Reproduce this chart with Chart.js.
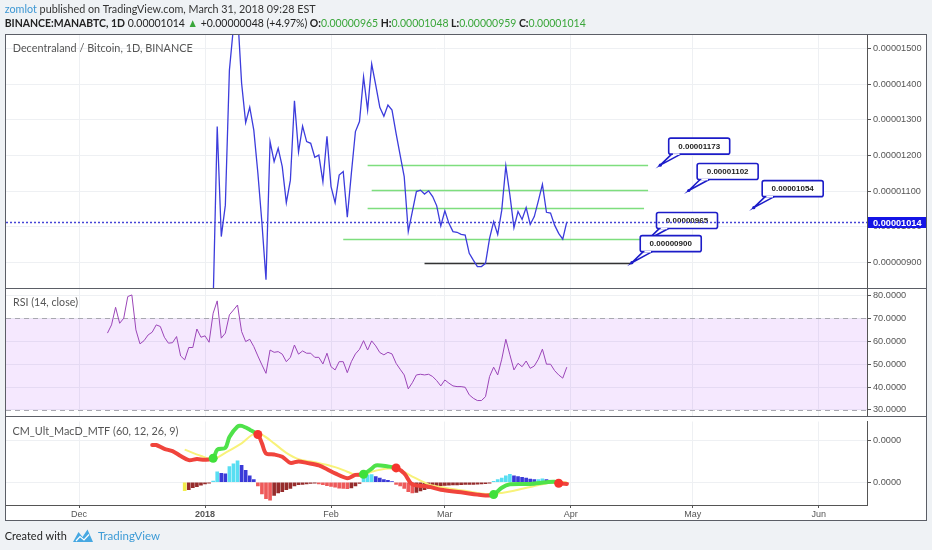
<!DOCTYPE html>
<html lang="en">
<head>
<meta charset="UTF-8">
<title>MANABTC 1D</title>
<script src="https://cdn.jsdelivr.net/npm/chart.js@4"></script>
<style>
  body { margin: 0; background: #eff2f5; }
  #page { position: relative; width: 932px; height: 550px; overflow: hidden; }
  canvas { position: absolute; left: 0; }
  .rule { position: absolute; background: #5b5e66; }
</style>
</head>
<body>
<div id="page">
  <canvas id="bg" width="932" height="550" style="top:0;width:932px;height:550px"></canvas>
  <canvas id="price" width="927" height="255" style="top:34px;width:927px;height:255px"></canvas>
  <canvas id="rsi" width="927" height="128" style="top:289px;width:927px;height:128px"></canvas>
  <canvas id="macd" width="927" height="104" style="top:417px;width:927px;height:104px"></canvas>
  <div class="rule" style="left:5px;top:34px;width:922px;height:1px"></div>
  <div class="rule" style="left:5px;top:34px;width:1px;height:487px"></div>
  <div class="rule" style="left:926px;top:34px;width:1px;height:487px"></div>
  <div class="rule" style="left:5px;top:520px;width:922px;height:1px"></div>
  <div class="rule" style="left:5px;top:288px;width:922px;height:1px"></div>
  <div class="rule" style="left:5px;top:416px;width:922px;height:1px"></div>
</div>
<script>
// days counted from Dec 1 2017
var xTickDays = [0, 31, 62, 90, 121, 151, 182];
var xTickLabels = ['Dec', '2018', 'Feb', 'Mar', 'Apr', 'May', 'Jun'];

// price in 1e-8 BTC, one value per day from priceStart
var priceStart = 31;
var priceVals = [650, 700, 790, 1281, 973, 1061, 1439, 1560, 1600, 1402,
  1292, 1335, 1271, 1151, 1011, 852, 1239, 1183, 1220, 1169,
  1068, 1131, 1353, 1210, 1282, 1239, 1234, 1195, 1201, 1126,
  1254, 1113, 1068, 1145, 1155, 1027, 1150, 1267, 1295, 1420,
  1327, 1456, 1397, 1335, 1310, 1341, 1327, 1262, 1201, 1141,
  987, 1043, 1099, 1103, 1092, 1101, 1085, 1059, 1003, 1045,
  1010, 987, 985, 979, 977, 926, 907, 889, 889, 898,
  968, 1015, 979, 1047, 1171, 1089, 998, 1043, 1021, 1054,
  1007, 1029, 1073, 1119, 1041, 1039, 1005, 982, 966, 1014];
var priceTicks = [900, 1000, 1100, 1200, 1300, 1400, 1500];
var lastPrice = 1014;
var ohlcNames = ['O', 'H', 'L', 'C'];
var ohlcVals = [965, 1048, 959, 1014];
var changeVal = 48;
var changePct = 4.97;

// drawn levels: price, first day, last day
var levelVals = [1173, 1102, 1054, 965, 900];
var levelFrom = [71, 72, 71, 65, 85];
var levelTo = [140, 140, 139, 138, 136];
// price notes: price, day
var noteVals = [1173, 1102, 1054, 965, 900];
var noteDays = [143, 150, 166, 140, 136];

// RSI(14), one value per day from rsiStart
var rsiStart = 7;
var rsiVals = [63.6, 67.2, 74.9, 67.9, 70.1, 79.6, 80.3, 65.0, 58.9, 60.3,
  62.8, 64.0, 67.2, 66.5, 61.8, 59.2, 59.4, 62.1, 53.6, 51.9,
  57.3, 57.3, 65.4, 61.8, 62.4, 59.6, 72.3, 77.7, 61.4, 63.6,
  71.6, 73.7, 75.9, 64.3, 59.9, 60.9, 57.7, 53.6, 49.7, 46.0,
  56.2, 55.2, 55.5, 54.4, 51.1, 53.0, 58.4, 54.4, 55.8, 54.8,
  54.8, 53.0, 53.0, 50.1, 54.8, 48.9, 47.5, 51.1, 51.1, 46.3,
  51.1, 54.5, 56.5, 60.3, 56.2, 60.2, 58.0, 55.1, 54.1, 55.2,
  54.5, 50.4, 47.8, 45.3, 39.2, 41.9, 45.3, 45.6, 45.3, 45.6,
  44.6, 42.8, 40.5, 43.1, 41.7, 40.5, 40.2, 40.2, 39.9, 36.6,
  35.1, 34.1, 34.1, 35.8, 44.6, 48.7, 45.3, 52.2, 60.9, 54.1,
  47.5, 50.4, 48.9, 51.4, 48.2, 49.2, 52.2, 56.6, 50.0, 50.0,
  47.2, 45.3, 43.9, 48.7];
var rsiTicks = [30, 40, 50, 60, 70, 80];
var rsiBand = [30, 70];

// MACD in 1e-8 BTC
var macdDays = [18, 19, 21, 23, 25, 27, 29, 31, 33, 34, 36, 37, 39, 40, 42, 44, 45, 46,
  48, 50, 52, 54, 56, 59, 61, 63, 66, 68, 70, 72, 73, 76, 78, 80, 82, 86, 89,
  94, 98, 100, 102, 104, 106, 111, 115, 117, 118, 120];
var macdVals = [17.7, 17.7, 15.9, 14.8, 12.5, 10.5, 11.0, 10.7, 11.4, 15.5, 16.3, 21.5,
  26.5, 26.8, 25.0, 22.7, 18.5, 13.7, 13.2, 12.1, 9.2, 9.9, 9.2, 8.0, 6.2, 4.2,
  1.9, 3.5, 3.8, 6.5, 8.0, 7.5, 6.8, 4.2, -1.0, -2.1, -3.6, -4.8, -5.9, -6.3,
  -5.9, -2.6, -1.0, -0.8, 0, 0.2, -0.5, -0.8];
var signalDays = [26, 30, 33, 36, 40, 43, 45, 48, 51, 54, 58, 63, 66, 69, 72, 76, 79,
  82, 86, 90, 95, 100, 104, 107, 112, 116, 120];
var signalVals = [15.5, 12.5, 11.0, 14.0, 18.5, 23.0, 22.6, 18.5, 14.0, 11.0, 9.5, 7.2,
  5.0, 3.0, 5.0, 6.5, 5.7, 2.7, -1.0, -2.6, -4.1, -5.6, -5.1, -4.1, -1.8, -0.3, 0];
var crossDays = [33, 44, 70, 78, 102, 118];
var histStart = 26;
var histVals = [-4.0, -3.6, -2.6, -2.1, -1.4, -0.8, -0.4, 0.6, 5.0, 4.2,
  4.0, 7.5, 8.7, 10.2, 8.0, 5.7, 3.0, 1.2, -1.8, -5.6,
  -7.8, -8.6, -6.3, -5.1, -4.5, -3.6, -3.0, -1.8, -1.2, -1.0,
  -0.8, -0.6, -0.5, -0.8, -1.2, -1.6, -2.0, -2.4, -2.8, -3.0,
  -3.1, -2.7, -1.8, -0.6, 2.7, 3.5, 3.6, 2.7, 2.0, 1.2,
  0.9, 0.3, -1.0, -1.8, -3.0, -4.5, -5.1, -4.8, -4.1, -3.6,
  -3.0, -2.1, -1.8, -1.6, -1.5, -1.4, -1.3, -1.3, -1.2, -1.1,
  -1.1, -1.0, -0.9, -0.8, -0.7, -0.5, 0.4, 1.2, 2.0, 3.0,
  3.7, 3.0, 2.7, 2.3, 2.0, 1.5, 1.2, 1.3, 1.6, 1.2,
  0.9, 0.6, -0.3, -0.5, -0.8];
var macdTicks = [0, 20];

var FONT = 'Liberation Sans, Arial, sans-serif';
var TEXTFONT = 'Lato, Open Sans, sans-serif';
var GRID = '#eef0f3';

function fmt8(v) { return (v * 1e-8).toFixed(8); }

// draw text runs squeezed to a width
function drawRuns(ctx, runs, x, y, w) {
    var total = 0;
    runs.forEach(function (r) { ctx.font = r[1]; total += ctx.measureText(r[0]).width; });
    ctx.save();
    ctx.translate(x, y);
    ctx.scale(w / total, 1);
    ctx.textBaseline = 'middle';
    ctx.textAlign = 'left';
    var cx = 0;
    runs.forEach(function (r) {
        ctx.font = r[1];
        ctx.fillStyle = r[2];
        ctx.fillText(r[0], cx, 0);
        cx += ctx.measureText(r[0]).width;
    });
    ctx.restore();
}

// ---------- page background, header, footer ----------
var bg = document.getElementById('bg').getContext('2d');
bg.fillStyle = '#eff2f5';
bg.fillRect(0, 0, 932, 550);
bg.fillStyle = '#ffffff';
bg.fillRect(5, 34, 922, 487);

var f1 = '11.5px ' + TEXTFONT;
var f1b = 'bold 11.5px ' + TEXTFONT;
var up = '#3aa63a';
drawRuns(bg, [['zomlot', f1, '#3d97d3'],
    [' published on TradingView.com, March 31, 2018 09:28 EST', f1, '#333']], 4.7, 9.5, 311);
var line2 = [['BINANCE:MANABTC, 1D', f1b, '#222'],
    [' ' + fmt8(lastPrice) + ' ', f1, '#222'], ['\u25B2', f1, up],
    [' +' + fmt8(changeVal) + ' (+' + changePct.toFixed(2) + '%)', f1, '#222']];
ohlcNames.forEach(function (n, i) {
    line2.push([' ' + n + ':', f1b, '#222']);
    line2.push([fmt8(ohlcVals[i]), f1, up]);
});
drawRuns(bg, line2, 4.7, 23.5, 581);

drawRuns(bg, [['Created with', f1, '#222']], 4.8, 536, 62);
bg.fillStyle = '#46a8e2';
bg.beginPath();
bg.moveTo(73, 542);
bg.lineTo(78.5, 532);
bg.lineTo(82.5, 537);
bg.lineTo(87.5, 529.5);
bg.lineTo(93, 542);
bg.closePath();
bg.fill();
bg.strokeStyle = '#ffffff';
bg.lineWidth = 1.2;
bg.beginPath();
bg.moveTo(76, 541);
bg.lineTo(80, 536.5);
bg.lineTo(84, 540);
bg.lineTo(89, 534.5);
bg.stroke();
drawRuns(bg, [['TradingView', f1, '#3d9bd6']], 98, 536, 62);

// ---------- shared scale builders ----------
var xMin = -17.96;
var xMax = 193.85;

function xScale(showLabels) {
    return {
        type: 'linear', min: xMin, max: xMax, offset: false,
        afterBuildTicks: function (s) { s.ticks = xTickDays.map(function (v) { return { value: v }; }); },
        afterFit: function (s) { s.height = showLabels ? 16 : 0; s.paddingLeft = 0; s.paddingRight = 0; },
        grid: { color: GRID, offset: false, drawTicks: showLabels, tickLength: 3, tickColor: '#555' },
        border: { display: showLabels, color: '#555' },
        ticks: {
            display: showLabels, autoSkip: false, maxRotation: 0, padding: 1, color: '#555',
            font: function (c) {
                return { family: FONT, size: 9, weight: xTickLabels[c.index] === '2018' ? 'bold' : 'normal' };
            },
            callback: function (v, i) { return xTickLabels[i]; }
        }
    };
}

function yScale(min, max, ticks, format) {
    return {
        position: 'right', min: min, max: max,
        afterBuildTicks: function (s) { s.ticks = ticks.map(function (v) { return { value: v }; }); },
        afterFit: function (s) { s.width = 60; s.paddingTop = 0; s.paddingBottom = 0; },
        grid: { color: GRID, drawTicks: true, tickLength: 4, tickColor: '#555' },
        border: { color: '#555' },
        ticks: { padding: 2, color: '#555', font: { family: FONT, size: 9.2 }, callback: format }
    };
}

function baseOptions(x, y) {
    return {
        responsive: false, animation: false, events: [],
        layout: { padding: { left: 6, right: 0, top: 0, bottom: 0 } },
        plugins: { legend: { display: false }, tooltip: { enabled: false } },
        scales: { x: x, y: y }
    };
}

function series(start, vals) {
    return vals.map(function (v, i) { return { x: start + i, y: v }; });
}

function pairs(days, vals) {
    return days.map(function (d, i) { return { x: d, y: vals[i] }; });
}

// ---------- price panel ----------
function drawNote(ctx, ax, ay, text) {
    var x0 = ax + 8.4, y0 = ay - 27, w = 61, h = 16;
    ctx.fillStyle = '#ffffff';
    ctx.strokeStyle = '#1c1cc8';
    ctx.lineWidth = 1.6;
    ctx.beginPath();
    ctx.moveTo(x0 + 3, y0 + h);
    ctx.lineTo(ax, ay);
    ctx.lineTo(x0 + 12, y0 + h);
    ctx.fill();
    ctx.stroke();
    ctx.beginPath();
    ctx.roundRect(x0, y0, w, h, 2);
    ctx.fill();
    ctx.stroke();
    ctx.strokeStyle = '#ffffff';
    ctx.beginPath();
    ctx.moveTo(x0 + 4.2, y0 + h);
    ctx.lineTo(x0 + 10.8, y0 + h);
    ctx.stroke();
    ctx.fillStyle = '#1c1cc8';
    ctx.beginPath();
    ctx.arc(ax, ay, 1.6, 0, Math.PI * 2);
    ctx.fill();
    ctx.fillStyle = '#222';
    ctx.font = 'bold 8px ' + FONT;
    ctx.textAlign = 'center';
    ctx.textBaseline = 'middle';
    ctx.fillText(text, x0 + w / 2, y0 + h / 2 + 0.5);
}

var priceDeco = {
    id: 'priceDeco',
    beforeDatasetsDraw: function (chart) {
        var ctx = chart.ctx, x = chart.scales.x, y = chart.scales.y;
        ctx.save();
        ctx.lineWidth = 1.5;
        levelVals.forEach(function (v, i) {
            ctx.strokeStyle = i === levelVals.length - 1 ? '#333333' : '#7ede7e';
            var py = Math.round(y.getPixelForValue(v)) + 0.5;
            ctx.beginPath();
            ctx.moveTo(x.getPixelForValue(levelFrom[i]), py);
            ctx.lineTo(x.getPixelForValue(levelTo[i]), py);
            ctx.stroke();
        });
        ctx.restore();
    },
    afterDatasetsDraw: function (chart) {
        var ctx = chart.ctx, x = chart.scales.x, y = chart.scales.y, a = chart.chartArea;
        ctx.save();
        noteVals.forEach(function (v, i) {
            drawNote(ctx, x.getPixelForValue(noteDays[i]), y.getPixelForValue(v), fmt8(v));
        });
        // last price line
        var py = Math.round(y.getPixelForValue(lastPrice)) + 0.5;
        ctx.strokeStyle = '#4646d6';
        ctx.lineWidth = 1.3;
        ctx.setLineDash([2, 2]);
        ctx.beginPath();
        ctx.moveTo(a.left, py);
        ctx.lineTo(a.right, py);
        ctx.stroke();
        ctx.setLineDash([]);
        ctx.fillStyle = '#1414e6';
        ctx.fillRect(a.right + 1, py - 5.5, 59, 11);
        ctx.fillStyle = '#ffffff';
        ctx.font = 'bold 9.2px ' + FONT;
        ctx.textAlign = 'left';
        ctx.textBaseline = 'middle';
        ctx.fillText(fmt8(lastPrice), a.right + 6, py + 0.5);
        ctx.restore();
        drawRuns(ctx, [['Decentraland / Bitcoin, 1D, BINANCE', '11.5px ' + TEXTFONT, '#555']], 12.7, 14.3, 180);
    }
};

new Chart(document.getElementById('price'), {
    type: 'line',
    data: {
        datasets: [{
            data: series(priceStart, priceVals),
            borderColor: '#3c3cdc', borderWidth: 1.3, pointRadius: 0, tension: 0, clip: 0
        }]
    },
    options: baseOptions(xScale(false), yScale(826.3, 1540, priceTicks, function (v) { return fmt8(v); })),
    plugins: [priceDeco]
});

// ---------- RSI panel ----------
var rsiDeco = {
    id: 'rsiDeco',
    beforeDatasetsDraw: function (chart) {
        var ctx = chart.ctx, y = chart.scales.y, a = chart.chartArea;
        var yTop = y.getPixelForValue(rsiBand[1]), yBot = y.getPixelForValue(rsiBand[0]);
        ctx.save();
        ctx.fillStyle = 'rgba(155, 30, 250, 0.1)';
        ctx.fillRect(a.left, yTop, a.right - a.left, yBot - yTop);
        ctx.strokeStyle = '#a8a8b0';
        ctx.lineWidth = 1;
        ctx.setLineDash([5, 4]);
        [yTop, yBot].forEach(function (py) {
            ctx.beginPath();
            ctx.moveTo(a.left, Math.round(py) + 0.5);
            ctx.lineTo(a.right, Math.round(py) + 0.5);
            ctx.stroke();
        });
        ctx.restore();
    },
    afterDatasetsDraw: function (chart) {
        drawRuns(chart.ctx, [['RSI (14, close)', '11.5px ' + TEXTFONT, '#555']], 13, 13.7, 65);
    }
};

new Chart(document.getElementById('rsi'), {
    type: 'line',
    data: {
        datasets: [{
            data: series(rsiStart, rsiVals),
            borderColor: '#9b45b8', borderWidth: 1, pointRadius: 0, tension: 0, clip: 0
        }]
    },
    options: baseOptions(xScale(false), yScale(26.9, 82.9, rsiTicks, function (v) { return v.toFixed(4); })),
    plugins: [rsiDeco]
});

// ---------- MACD panel ----------
var GREEN = '#4fe24a', RED = '#f0443c';

function macdUp(day) {
    return crossDays.filter(function (d) { return d <= day; }).length % 2 === 1;
}

var histColors = histVals.map(function (v, i) {
    if (i === 0) return '#f2ec4a';
    var prev = histVals[i - 1];
    if (v >= 0) return v > prev ? '#58def2' : '#3a3ad8';
    return v < prev ? '#ee5a5a' : '#962c2c';
});

var crossPoints = crossDays.map(function (d) {
    return { x: d, y: macdVals[macdDays.indexOf(d)] };
});

var macdDeco = {
    id: 'macdDeco',
    afterDatasetsDraw: function (chart) {
        drawRuns(chart.ctx, [['CM_Ult_MacD_MTF (60, 12, 26, 9)', '11.5px ' + TEXTFONT, '#555']], 12.5, 14, 166);
    }
};

new Chart(document.getElementById('macd'), {
    type: 'bar',
    data: {
        datasets: [{
            type: 'line', order: 0,
            data: crossPoints, showLine: false, pointRadius: 4.5, borderWidth: 0,
            pointBackgroundColor: crossPoints.map(function (p, i) { return i % 2 === 0 ? '#3fe03a' : '#f5352e'; })
        }, {
            type: 'line', order: 1,
            data: pairs(macdDays, macdVals), borderWidth: 4, pointRadius: 0, tension: 0.3,
            borderColor: RED, borderCapStyle: 'round', borderJoinStyle: 'round',
            segment: { borderColor: function (c) { return macdUp(c.p0.parsed.x) ? GREEN : RED; } }
        }, {
            type: 'line', order: 2,
            data: pairs(signalDays, signalVals), borderWidth: 2, pointRadius: 0, tension: 0.3,
            borderColor: '#f8f27a'
        }, {
            type: 'bar', order: 3,
            data: series(histStart, histVals), backgroundColor: histColors,
            barThickness: 3, borderWidth: 0
        }]
    },
    options: baseOptions(xScale(true), yScale(-10.84, 28.9, macdTicks, function (v) { return (v * 1e-8).toFixed(4); })),
    plugins: [macdDeco]
});
</script>
</body>
</html>
